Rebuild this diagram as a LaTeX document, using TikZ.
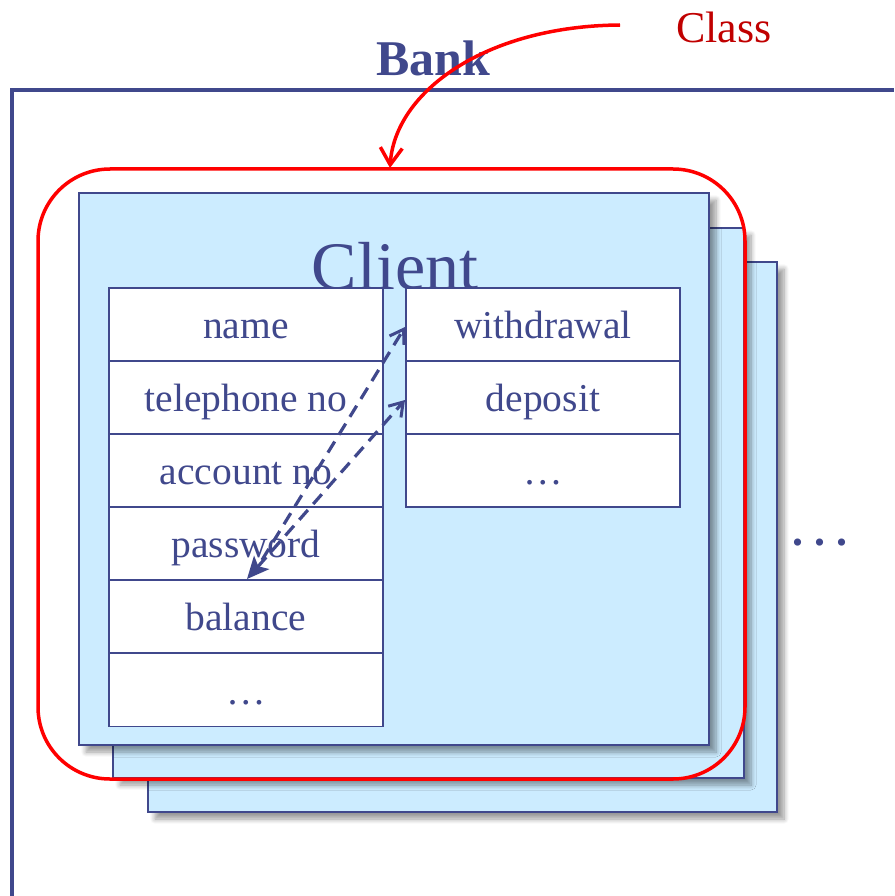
\documentclass[tikz,border=0pt]{standalone}
\usepackage{fontspec}
\setmainfont{Liberation Serif}
\usetikzlibrary{arrows.meta,shadows.blur,positioning}
\definecolor{ink}{RGB}{64,72,140}
\definecolor{cardfill}{RGB}{204,236,255}
\definecolor{classred}{RGB}{192,0,0}
\tikzset{
  card/.style={draw=ink, line width=1.6pt, fill=cardfill, rectangle, inner sep=0pt,
    blur shadow={shadow xshift=7pt, shadow yshift=-7pt, shadow blur steps=8, shadow opacity=40, shadow blur radius=5pt}},
  cell/.style={draw=ink, line width=1.5pt, fill=white, rectangle, inner sep=0pt,
    minimum width=274pt, minimum height=73pt, text=ink,
    text height=28pt, text depth=0pt,
    font=\fontsize{39.5}{44}\selectfont},
  link/.style={draw=ink, line width=3.2pt, dash pattern=on 13pt off 8pt},
  openhead/.style={-{Straight Barb[length=13pt,width=17pt,line width=3pt]}},
}
\begin{document}
\begin{tikzpicture}[x=1pt,y=-1pt]
\useasboundingbox (0,0) rectangle (894,896);

% bank frame
\coordinate (bankbl) at (12,896);
\coordinate (banktl) at (12,90);
\coordinate (banktr) at (894,90);
\draw[ink, line width=3.2pt] (bankbl) -- (banktl) -- (banktr);
\node[text=ink, font=\bfseries\fontsize{50}{56}\selectfont] (bank) at (433,58) {Bank};

% stacked client cards
\node[card, minimum width=629pt, minimum height=550pt] (card3) at (462.5,537) {};
\node[card, minimum width=631pt, minimum height=550pt] (card2) at (428.5,503) {};
\node[card, minimum width=630pt, minimum height=552pt] (card1) at (394,469) {};
\node[text=ink, font=\fontsize{68}{72}\selectfont] (client) at (395,266) {Client};

% attributes
\node[cell] (name)  at (246,324.5) {name};
\node[cell] (tel)   at (246,397.5) {telephone no};
\node[cell] (acc)   at (246,470.5) {account no};
\node[cell] (pwd)   at (246,543.5) {password};
\node[cell] (bal)   at (246,616.5) {balance};
\node[cell] (amore) at (246,690) {\dots};

% methods
\node[cell] (wd)    at (543,324.5) {withdrawal};
\node[cell] (dep)   at (543,397.5) {deposit};
\node[cell] (mmore) at (543,470.5) {\dots};

% more objects
\node[text=ink, font=\bfseries\fontsize{44}{48}\selectfont, anchor=base] (more) at (820,545) {.\hspace{11pt}.\hspace{11pt}.};

% method access links
\coordinate (pA) at (262,560);
\coordinate (pB) at (247,579);
\coordinate (wA) at (405,327);
\coordinate (dA) at (405,400);
\draw[link, openhead] (pA) -- (wA);
\draw[link, {Stealth[length=22pt,width=20pt,inset=5pt]}-{Straight Barb[length=13pt,width=17pt,line width=3pt]}] (pB) -- (dA);

% class marker
\node[draw=red, line width=3.5pt, rounded corners=72pt, minimum width=707pt, minimum height=610pt] (classbox) at (391.5,474) {};
\node[text=classred, font=\fontsize{44}{48}\selectfont] (classlbl) at (724,27) {Class};
\coordinate (ctail) at (620,25);
\coordinate (chead) at (390,168);
\draw[red, line width=3.5pt, -{Straight Barb[length=17pt,width=22pt,line width=3.5pt]}] (ctail) .. controls (485,26) and (395,92) .. (chead);
\end{tikzpicture}
\end{document}
